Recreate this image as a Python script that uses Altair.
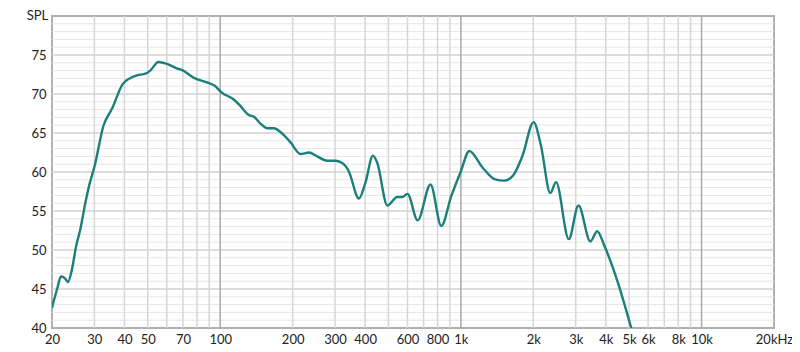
import altair as alt
import pandas as pd

freq = [20, 21, 21.8, 22.6, 23.3, 24.2, 25.2, 26.2, 27.5, 28.3, 30.2, 32.7, 35.5, 39.4, 42, 45.2,
        48.9, 51.2, 55.4, 60.1, 66.0, 70.2, 77.4, 88.0, 95.0, 101.2, 113.8, 121, 131.4, 137.9,
        147, 156.9, 167, 178.3, 196, 215.7, 233.5, 253, 278, 301, 326, 342, 377, 401, 431, 449,
        495, 544, 572, 600, 661, 748, 829, 912, 1000, 1084, 1232, 1378, 1515, 1643, 1804, 2005,
        2151, 2353, 2485, 2808, 3080, 3453, 3684, 3951, 4494, 5124]
spl = [42.6, 45.0, 46.6, 46.4, 45.9, 47.5, 50.5, 52.6, 56.0, 57.8, 61.0, 65.9, 68.1, 71.3, 72.0, 72.4,
       72.6, 73.0, 74.1, 73.85, 73.3, 73.0, 72.1, 71.5, 71.05, 70.2, 69.3, 68.5, 67.3, 67.1,
       66.2, 65.6, 65.6, 65.1, 63.8, 62.3, 62.5, 62.0, 61.45, 61.45, 61.0, 60.1, 56.6, 58.6, 62.1, 61.2,
       55.7, 56.8, 56.8, 57.2, 53.8, 58.4, 53.1, 56.9, 60.1, 62.7, 60.55, 59.1, 58.9, 59.5, 62.1, 66.4,
       63.4, 57.3, 58.7, 51.4, 55.7, 51.1, 52.4, 50.5, 45.8, 39.8]

x_labels = [20, 30, 40, 50, 70, 100, 200, 300, 400, 600, 800, 1000, 2000, 3000, 4000, 5000,
            6000, 8000, 10000, 20000]
x_minor = [30, 40, 50, 60, 70, 80, 90, 200, 300, 400, 500, 600, 700, 800, 900,
           2000, 3000, 4000, 5000, 6000, 7000, 8000, 9000]
x_major = [100, 1000, 10000]
y_labels = [40, 45, 50, 55, 60, 65, 70, 75]
y_minor = [v for v in range(41, 80) if v % 5 != 0]
y_major = [45, 50, 55, 60, 65, 70, 75]

FONT = "Lato"
xs = alt.Scale(type="log", domain=[20, 20000], nice=False)
ys = alt.Scale(domain=[40, 80], nice=False, zero=False)

xaxis = alt.Axis(values=x_labels, grid=False, ticks=False, domain=False, labelFont=FONT,
                 labelFontSize=13, labelColor="#222", labelPadding=5, labelFlush=False,
                 labelOverlap=False, title=None,
                 labelExpr="datum.value == 20000 ? '20kHz' : (datum.value >= 1000 ? (datum.value/1000) + 'k' : datum.value)")
yaxis = alt.Axis(values=y_labels, grid=False, ticks=False, domain=False, labelFont=FONT,
                 labelFontSize=13, labelColor="#222", labelPadding=6, labelFlush=False,
                 title="SPL", titleAngle=0, titleFont=FONT, titleFontSize=13,
                 titleFontWeight="normal", titleColor="#222", titleX=-15, titleY=-7,
                 titleAlign="center", titleBaseline="top")

df = pd.DataFrame({"f": freq, "spl": spl})

base_axes = alt.Chart(df).mark_point(opacity=0).encode(
    x=alt.X("f:Q", scale=xs, axis=xaxis),
    y=alt.Y("spl:Q", scale=ys, axis=yaxis))

ymin = alt.Chart(pd.DataFrame({"v": y_minor})).mark_rule(color="#e6e6e6", strokeWidth=1).encode(
    y=alt.Y("v:Q", scale=ys, axis=yaxis))
ymaj = alt.Chart(pd.DataFrame({"v": y_major})).mark_rule(color="#d2d2d2", strokeWidth=1.5).encode(
    y=alt.Y("v:Q", scale=ys, axis=yaxis))
xmin = alt.Chart(pd.DataFrame({"v": x_minor})).mark_rule(color="#d6d6d6", strokeWidth=1.5).encode(
    x=alt.X("v:Q", scale=xs, axis=xaxis))
xmaj = alt.Chart(pd.DataFrame({"v": x_major})).mark_rule(color="#a9a9a9", strokeWidth=1.5).encode(
    x=alt.X("v:Q", scale=xs, axis=xaxis))

line = alt.Chart(df).mark_line(color="#1b7f7b", strokeWidth=2.4, interpolate="monotone", clip=True).encode(
    x=alt.X("f:Q", scale=xs, axis=xaxis),
    y=alt.Y("spl:Q", scale=ys, axis=yaxis),
)

chart = alt.layer(base_axes, ymin, ymaj, xmin, xmaj, line).properties(
    width=722, height=312,
    autosize=alt.AutoSizeParams(type="none"),
    padding={"left": 44, "top": 8, "right": 18, "bottom": 24},
    background="white",
).configure_view(stroke="#b0b0b0", strokeWidth=2)

chart.save("out.html", embed_options={"renderer": "svg", "actions": False})
